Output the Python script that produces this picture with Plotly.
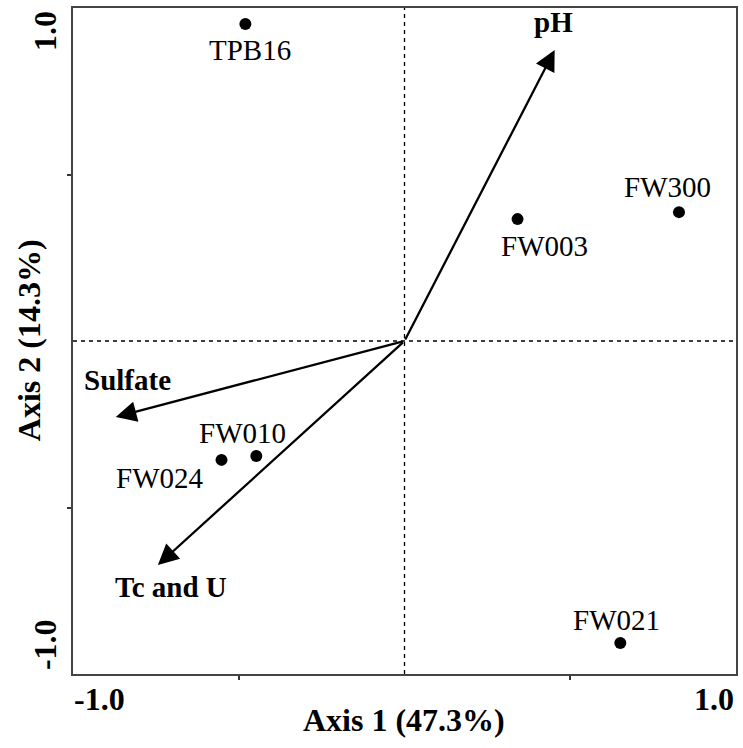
import plotly.graph_objects as go

# Site scores
sites = ["TPB16", "FW300", "FW003", "FW010", "FW024", "FW021"]
site_x = [-0.48, 0.828, 0.341, -0.447, -0.552, 0.651]
site_y = [0.952, 0.387, 0.366, -0.345, -0.357, -0.907]

# Environmental vectors
variables = ["pH", "Sulfate", "Tc and U"]
var_x = [0.453, -0.871, -0.744]
var_y = [0.874, -0.228, -0.673]

# Axis titles and tick labels
x_title = "Axis 1 (47.3%)"
y_title = "Axis 2 (14.3%)"
tick_labels = ["-1.0", "1.0"]

# Label placement (pixel offsets from points)
site_shift = [(5, -26), (-11, 25), (27, -27), (-14, 23), (-62, -18), (-4, 23)]
var_shift = [(-1, 28), (12, 37), (13, -22)]

FONT = "Liberation Serif, Times New Roman, serif"

fig = go.Figure()
fig.add_trace(go.Scatter(
    x=site_x, y=site_y, mode="markers",
    marker=dict(color="black", size=12),
    hoverinfo="text", text=sites, showlegend=False,
))

# Dashed reference lines
fig.add_shape(type="line", x0=-1, x1=1, y0=0, y1=0, xref="x", yref="y",
              line=dict(color="black", width=1.3, dash="4px,4px"))
fig.add_shape(type="line", x0=0, x1=0, y0=-1, y1=1, xref="x", yref="y",
              line=dict(color="black", width=1.3, dash="4px,4px"))

annotations = []
for name, x, y, (dx, dy) in zip(sites, site_x, site_y, site_shift):
    annotations.append(dict(x=x, y=y, xref="x", yref="y", text=name, showarrow=False,
                            xshift=dx, yshift=dy, xanchor="center", yanchor="middle",
                            font=dict(family=FONT, size=29, color="black")))
for name, x, y, (dx, dy) in zip(variables, var_x, var_y, var_shift):
    annotations.append(dict(x=x, y=y, ax=0, ay=0, xref="x", yref="y", axref="x", ayref="y",
                            text="", showarrow=True, arrowhead=2, arrowsize=1.8,
                            arrowwidth=2.3, arrowcolor="black"))
    annotations.append(dict(x=x, y=y, xref="x", yref="y", text="<b>%s</b>" % name,
                            showarrow=False, xshift=dx, yshift=dy,
                            xanchor="center", yanchor="middle",
                            font=dict(family=FONT, size=29, color="black")))

W, H = 743, 748
L, R, T, B = 73, 5, 8, 74
pw, ph = W - L - R, H - T - B

def px(xp):
    return (xp - L) / pw

def py(yp):
    return (H - B - yp) / ph

tickfont = dict(family=FONT, size=32, color="black")

def lab(xp, yp, text, angle=0):
    return dict(x=px(xp), y=py(yp), xref="paper", yref="paper", text="<b>%s</b>" % text,
                showarrow=False, textangle=angle, xanchor="center", yanchor="middle",
                font=tickfont)

annotations += [
    lab(100, 699, tick_labels[0]),
    lab(716, 699, tick_labels[1]),
    lab(45, 31, tick_labels[1], -90),
    lab(45, 645, tick_labels[0], -90),
    lab(405, 720, x_title),
    lab(29, 340, y_title, -90),
]

axis_common = dict(range=[-1, 1], showgrid=False, zeroline=False, showline=True,
                   linecolor="#444", linewidth=2, mirror=True,
                   tickvals=[-0.5, 0.5], ticks="outside", ticklen=4, tickwidth=2,
                   tickcolor="#333", showticklabels=False, fixedrange=True)

fig.update_layout(
    width=W, height=H,
    margin=dict(l=L, r=R, t=T, b=B),
    paper_bgcolor="white", plot_bgcolor="white",
    xaxis=axis_common, yaxis=axis_common,
    annotations=annotations,
    showlegend=False,
)

fig.write_html("out.html", post_script="document.body.style.margin='0px';",
               config={"displayModeBar": False})
